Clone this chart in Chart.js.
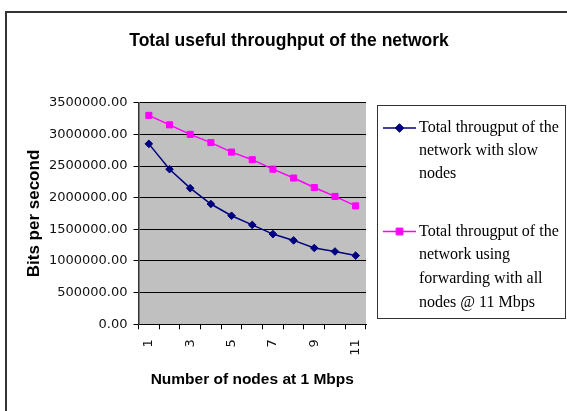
<!DOCTYPE html>
<html>
<head>
<meta charset="utf-8">
<script src="https://cdn.jsdelivr.net/npm/chart.js@4/dist/chart.umd.min.js"></script>
<style>
  html, body { margin: 0; padding: 0; background: #fff; overflow: hidden; }
  #wrap { position: relative; width: 567px; height: 411px; }
  #frame { position: absolute; left: 5px; top: 11px; width: 620px; height: 460px; border: 2px solid #333; box-sizing: border-box; }
  canvas { position: absolute; left: 0; top: 0; }
</style>
</head>
<body>
<div id="wrap">
  <div id="frame"></div>
  <canvas id="c" width="567" height="411"></canvas>
</div>
<script>
// ---- data ----
const categories = ['1', '2', '3', '4', '5', '6', '7', '8', '9', '10', '11'];
const shownXTicks = ['1', '3', '5', '7', '9', '11'];
const slowNodes = [2850000, 2450000, 2150000, 1900000, 1715000, 1570000, 1425000, 1325000, 1205000, 1150000, 1085000];
const forwardingAll = [3300000, 3150000, 3000000, 2870000, 2720000, 2600000, 2450000, 2310000, 2160000, 2020000, 1870000];
const seriesLabels = [
  'Total througput of the network with slow nodes',
  'Total througput of the network using forwarding with all nodes @ 11 Mbps'
];
const yMin = 0, yMax = 3500000, yStep = 500000;
const chartTitle = 'Total useful throughput of the network';
const xTitle = 'Number of nodes at 1 Mbps';
const yTitle = 'Bits per second';

const SANS = '"Liberation Sans", Arial, sans-serif';
const TICKFONT = '"DejaVu Sans", Verdana, sans-serif';
const SERIF = '"Liberation Serif", "Times New Roman", serif';

const bgPlugin = {
  id: 'plotBg',
  beforeDraw(chart) {
    const { ctx, chartArea: a } = chart;
    ctx.save();
    ctx.fillStyle = '#C0C0C0';
    ctx.fillRect(a.left, a.top, a.right - a.left, a.bottom - a.top);
    ctx.restore();
  }
};

function wrapText(ctx, text, maxW) {
  const words = text.split(' ');
  const lines = [];
  let cur = '';
  for (const w of words) {
    const t = cur ? cur + ' ' + w : w;
    if (ctx.measureText(t).width > maxW && cur) { lines.push(cur); cur = w; }
    else cur = t;
  }
  if (cur) lines.push(cur);
  return lines;
}

function drawMarker(ctx, style, x, y, r, color) {
  ctx.save();
  ctx.fillStyle = color;
  ctx.strokeStyle = color;
  ctx.lineWidth = 1;
  ctx.beginPath();
  if (style === 'rectRot') {
    ctx.moveTo(x, y - r); ctx.lineTo(x + r, y); ctx.lineTo(x, y + r); ctx.lineTo(x - r, y); ctx.closePath();
  } else {
    const s = r * Math.SQRT1_2;
    ctx.rect(x - s, y - s, 2 * s, 2 * s);
  }
  ctx.fill(); ctx.stroke();
  ctx.restore();
}

const legendPlugin = {
  id: 'boxLegend',
  afterDraw(chart) {
    const ctx = chart.ctx;
    const box = { l: 377.5, t: 105.5, r: 565.5, b: 318.5 };
    ctx.save();
    ctx.strokeStyle = '#333';
    ctx.lineWidth = 1;
    ctx.strokeRect(box.l, box.t, box.r - box.l, box.b - box.t);
    ctx.font = '16px ' + SERIF;
    ctx.fillStyle = '#000';
    ctx.textBaseline = 'middle';
    ctx.textAlign = 'left';
    const starts = [128, 231.5];
    const spacing = [23, 23.7];
    chart.data.datasets.forEach((ds, i) => {
      const lines = wrapText(ctx, ds.label, 146);
      const y0 = starts[i];
      ctx.save();
      ctx.strokeStyle = ds.borderColor;
      ctx.lineWidth = 1.5;
      ctx.beginPath(); ctx.moveTo(383, y0); ctx.lineTo(416, y0); ctx.stroke();
      ctx.restore();
      drawMarker(ctx, ds.pointStyle, 399.5, y0, ds.pointRadius + 0.5, ds.borderColor);
      lines.forEach((ln, k) => ctx.fillText(ln, 419, y0 + k * spacing[i]));
    });
    ctx.restore();
  }
};

new Chart(document.getElementById('c'), {
  type: 'line',
  data: {
    labels: categories,
    datasets: [
      {
        label: seriesLabels[0], data: slowNodes,
        borderColor: '#000080', backgroundColor: '#000080',
        borderWidth: 1.5, pointStyle: 'rectRot', pointRadius: 3.8, pointBorderWidth: 1,
        tension: 0
      },
      {
        label: seriesLabels[1], data: forwardingAll,
        borderColor: '#FF00FF', backgroundColor: '#FF00FF',
        borderWidth: 1.5, pointStyle: 'rect', pointRadius: 4.3, pointBorderWidth: 1,
        tension: 0
      }
    ]
  },
  options: {
    responsive: false,
    animation: false,
    devicePixelRatio: 1,
    layout: { padding: { left: 11, right: 0, top: 0, bottom: 0 } },
    plugins: {
      legend: { display: false },
      tooltip: { enabled: false },
      title: {
        display: true, text: chartTitle, color: '#000',
        font: { family: SANS, size: 17.5, weight: 'bold', lineHeight: 1.2 },
        padding: { top: 30.5, bottom: 51.2 }
      }
    },
    scales: {
      x: {
        type: 'category',
        offset: true,
        grid: { display: true, drawOnChartArea: false, drawTicks: true, tickLength: 5, offset: true, color: '#000', lineWidth: 1 },
        border: { display: true, color: '#000', width: 1 },
        ticks: {
          autoSkip: false, minRotation: 90, maxRotation: 90, padding: 10,
          color: '#111', font: { family: TICKFONT, size: 13 },
          callback: (v, i) => shownXTicks.includes(categories[i]) ? categories[i] : ''
        },
        title: {
          display: true, text: xTitle, color: '#000',
          font: { family: SANS, size: 15.5, weight: 'bold' },
          padding: { top: 4, bottom: 22 }
        },
        afterFit: s => { s.height = 86.7; }
      },
      y: {
        min: yMin, max: yMax,
        grid: { color: '#000', lineWidth: 1, tickLength: 5, drawTicks: true },
        border: { display: true, color: '#333', width: 1.5 },
        ticks: {
          stepSize: yStep, padding: 6, color: '#111',
          font: { family: TICKFONT, size: 13 },
          callback: v => Number(v).toFixed(2)
        },
        title: {
          display: true, text: yTitle, color: '#000',
          font: { family: SANS, size: 17, weight: 'bold' },
          padding: { top: 13, bottom: 0 }
        },
        afterFit: s => { s.width = 127.5; }
      },
      yR: {
        type: 'linear', position: 'right', display: true,
        grid: { display: false }, border: { display: false },
        ticks: { display: false },
        afterFit: s => { s.width = 201; }
      }
    }
  },
  plugins: [bgPlugin, legendPlugin]
});
</script>
</body>
</html>
